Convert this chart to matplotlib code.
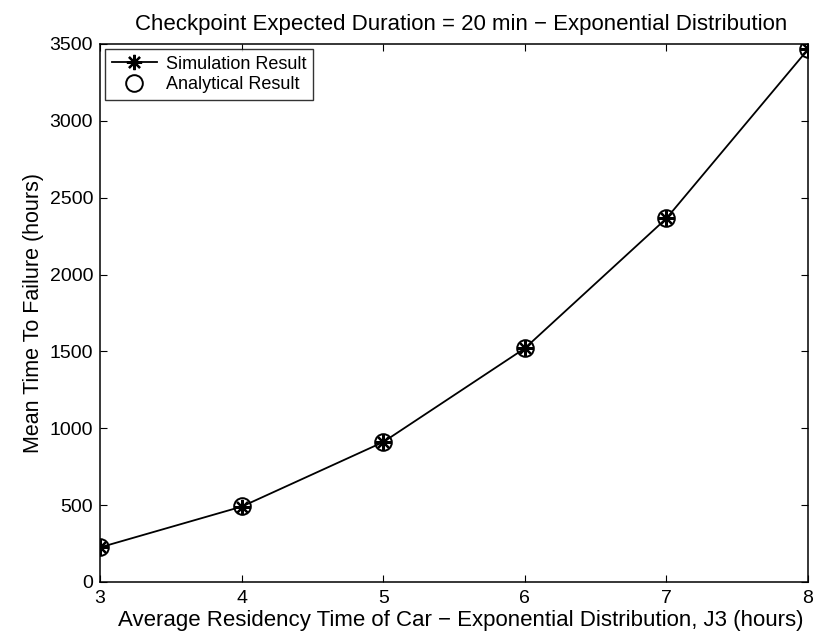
import numpy as np
import matplotlib.pyplot as plt

plt.rcParams['font.family'] = ['Liberation Sans', 'DejaVu Sans']

# Data
residency_hours = [3, 4, 5, 6, 7, 8]
sim_mttf = [225, 490, 910, 1520, 2365, 3465]
analytic_mttf = [228, 492, 912, 1522, 2368, 3468]

fig = plt.figure(figsize=(8.15, 6.42), dpi=100)
ax = fig.add_axes([0.1227, 0.0935, 0.8687, 0.838])

ax.plot(residency_hours, sim_mttf, color='black', lw=1.3, marker=(8, 2, 0),
        markersize=11, markeredgewidth=1.6, label='Simulation Result')
ax.plot(residency_hours, analytic_mttf, ls='none', marker='o', markersize=12,
        markerfacecolor='none', markeredgecolor='black', markeredgewidth=1.4,
        label='Analytical Result')

ax.set_xlim(3, 8)
ax.set_ylim(0, 3500)
ax.set_xticks([3, 4, 5, 6, 7, 8])
ax.set_yticks(np.arange(0, 3501, 500))
ax.tick_params(direction='in', labelsize=14, length=5, top=True, right=True)
ax.tick_params(axis='x', pad=6)
ax.tick_params(axis='y', pad=5)
for s in ax.spines.values():
    s.set_linewidth(1.1)

ax.set_title('Checkpoint Expected Duration = 20 min \u2212 Exponential Distribution',
             fontsize=16, pad=10, x=0.51)
ax.set_xlabel('Average Residency Time of Car \u2212 Exponential Distribution, J3 (hours)',
              fontsize=16, labelpad=2, x=0.51)
ax.set_ylabel('Mean Time To Failure (hours)', fontsize=15.5, labelpad=4)

leg = ax.legend(loc='upper left', fontsize=13, frameon=True, fancybox=False,
                edgecolor='black', borderaxespad=0.3, handlelength=2.5,
                labelspacing=0.2, borderpad=0.35, handletextpad=0.5)
leg.get_frame().set_linewidth(1.0)

fig.savefig('out.png', dpi=100)
